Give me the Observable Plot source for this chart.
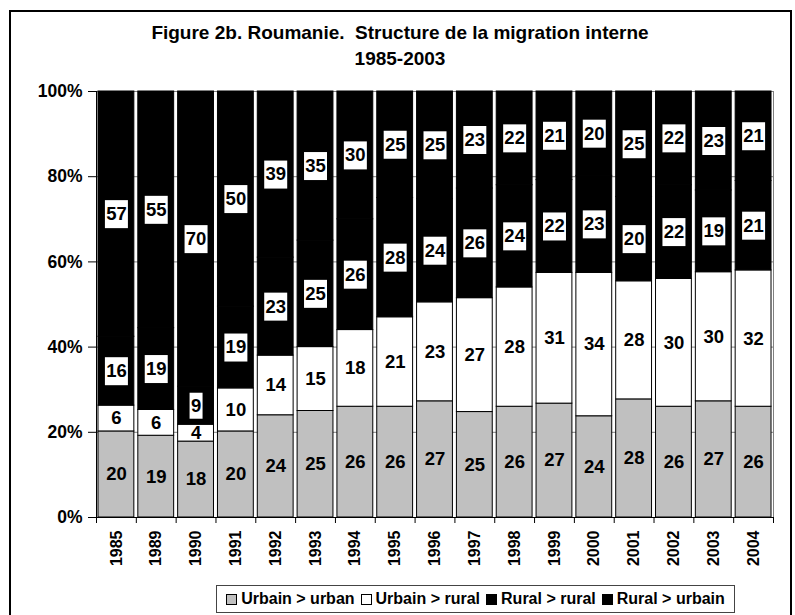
<!DOCTYPE html>
<html>
<head>
<meta charset="utf-8">
<script src="https://cdn.jsdelivr.net/npm/d3@7"></script>
<script src="https://cdn.jsdelivr.net/npm/@observablehq/plot@0.6"></script>
<style>
  body { margin: 0; background: #fff; font-family: "Liberation Sans", Arial, sans-serif; }
  #wrap { position: relative; width: 795px; height: 615px; overflow: hidden; background: #fff; }
  #plot { position: absolute; left: 0; top: 0; }
  #title { position: absolute; left: 10px; width: 780px; top: 20px; text-align: center;
           font-weight: bold; font-size: 19px; line-height: 26px; white-space: pre; color: #000; }
  #frame { position: absolute; left: 9px; top: 10px; width: 779px; height: 700px; border: 2px solid #000; }
  #legend { position: absolute; left: 216px; top: 585px; width: 517px; height: 26px; border: 1px solid #444;
            display: flex; align-items: center; justify-content: center; gap: 6px;
            font-weight: bold; font-size: 16px; white-space: pre; background: #fff; }
  #legend .item { display: flex; align-items: center; gap: 4px; }
  #legend .sw { width: 9px; height: 9px; border: 1px solid #000; display: inline-block; }
  #plot g[aria-label="y-axis tick label"] text { font-size: 17.5px; }
  #plot g[aria-label="x-axis tick label"] text { font-size: 16px; }
</style>
</head>
<body>
<div id="wrap">
  <div id="plot"></div>
  <div id="title"></div>
  <div id="legend"></div>
  <div id="frame"></div>
</div>
<script>
// ---- data ----
const titleLines = ["Figure 2b. Roumanie.  Structure de la migration interne", "1985-2003"];
const years = ["1985","1989","1990","1991","1992","1993","1994","1995","1996","1997","1998","1999","2000","2001","2002","2003","2004"];
const seriesNames = ["Urbain > urban", "Urbain > rural", "Rural > rural", "Rural > urbain"];
const urbainUrban  = [20,19,18,20,24,25,26,26,27,25,26,27,24,28,26,27,26];
const urbainRural  = [ 6, 6, 4,10,14,15,18,21,23,27,28,31,34,28,30,30,32];
const ruralRural   = [16,19, 9,19,23,25,26,28,24,26,24,22,23,20,22,19,21];
const ruralUrbain  = [57,55,70,50,39,35,30,25,25,23,22,21,20,25,22,23,21];
const seriesColors = ["#c0c0c0", "#ffffff", "#000000", "#000000"];
const yTicks = [0, 0.2, 0.4, 0.6, 0.8, 1];
const gridTicks = [0.2, 0.4, 0.6, 0.8, 1];
const boxedSeries = ["Rural > rural", "Rural > urbain"];

// ---- table ----
const seriesValues = [urbainUrban, urbainRural, ruralRural, ruralUrbain];
const table = seriesNames.flatMap((s, k) => years.map((y, i) => ({year: y, series: s, value: seriesValues[k][i]})));

// ---- layout ----
const W = 795, H = 600, mL = 96, mR = 22, mT = 91, mB = 83;
const plotH = H - mT - mB;
const step = (W - mL - mR) / years.length;

// label background boxes (custom symbols)
const wideBox = {draw(ctx) { ctx.moveTo(-11.5, -14); ctx.lineTo(11.5, -14); ctx.lineTo(11.5, 14); ctx.lineTo(-11.5, 14); ctx.closePath(); }};
const narrowBox = {draw(ctx) { ctx.moveTo(-6.5, -13); ctx.lineTo(6.5, -13); ctx.lineTo(6.5, 13); ctx.lineTo(-6.5, 13); ctx.closePath(); }};

const stack = (o) => Plot.stackY({x: "year", y: "value", z: "series", offset: "normalize", ...o});

const chart = Plot.plot({
  width: W, height: H,
  marginLeft: mL, marginRight: mR, marginTop: mT, marginBottom: mB,
  style: {fontFamily: "'Liberation Sans', Arial, sans-serif", fontWeight: "bold", fontSize: "16px", color: "#000", background: "transparent"},
  x: {type: "band", domain: years, round: false, paddingInner: 0.1, paddingOuter: 0.05, tickSize: 0, tickRotate: -90, tickPadding: 13, label: null},
  y: {domain: [0, 1], ticks: yTicks, tickFormat: d3.format(".0%"), tickSize: 8, tickPadding: 6, label: null},
  color: {domain: seriesNames, range: seriesColors},
  marks: [
    Plot.frame({stroke: "#808080"}),
    Plot.ruleY(gridTicks, {stroke: "#808080"}),
    Plot.barY(table, stack({fill: "series", stroke: "black", strokeWidth: 1})),
    Plot.dot(table, stack({symbol: wideBox, fill: "white", stroke: "none",
      fillOpacity: d => (boxedSeries.includes(d.series) && d.value >= 10) ? 1 : 0})),
    Plot.dot(table, stack({symbol: narrowBox, fill: "white", stroke: "none",
      fillOpacity: d => (boxedSeries.includes(d.series) && d.value < 10) ? 1 : 0})),
    Plot.text(table, stack({text: "value", fill: "black", fontSize: 18.5, fontWeight: "bold"})),
    Plot.ruleX([years[0]], {dx: -step / 2, stroke: "black"}),
    Plot.ruleY([0], {stroke: "black"}),
    Plot.ruleX(years, {dx: -step / 2, insetTop: plotH, insetBottom: -6, stroke: "black"}),
    Plot.ruleX([years[years.length - 1]], {dx: step / 2, insetTop: plotH, insetBottom: -6, stroke: "black"})
  ]
});
document.getElementById("plot").appendChild(chart);

// ---- title ----
document.getElementById("title").textContent = titleLines.join("\n");

// ---- legend ----
const legend = document.getElementById("legend");
seriesNames.forEach((s, k) => {
  const item = document.createElement("span");
  item.className = "item";
  const sw = document.createElement("span");
  sw.className = "sw";
  sw.style.background = seriesColors[k];
  const t = document.createElement("span");
  t.textContent = s;
  item.appendChild(sw);
  item.appendChild(t);
  legend.appendChild(item);
});
</script>
</body>
</html>
